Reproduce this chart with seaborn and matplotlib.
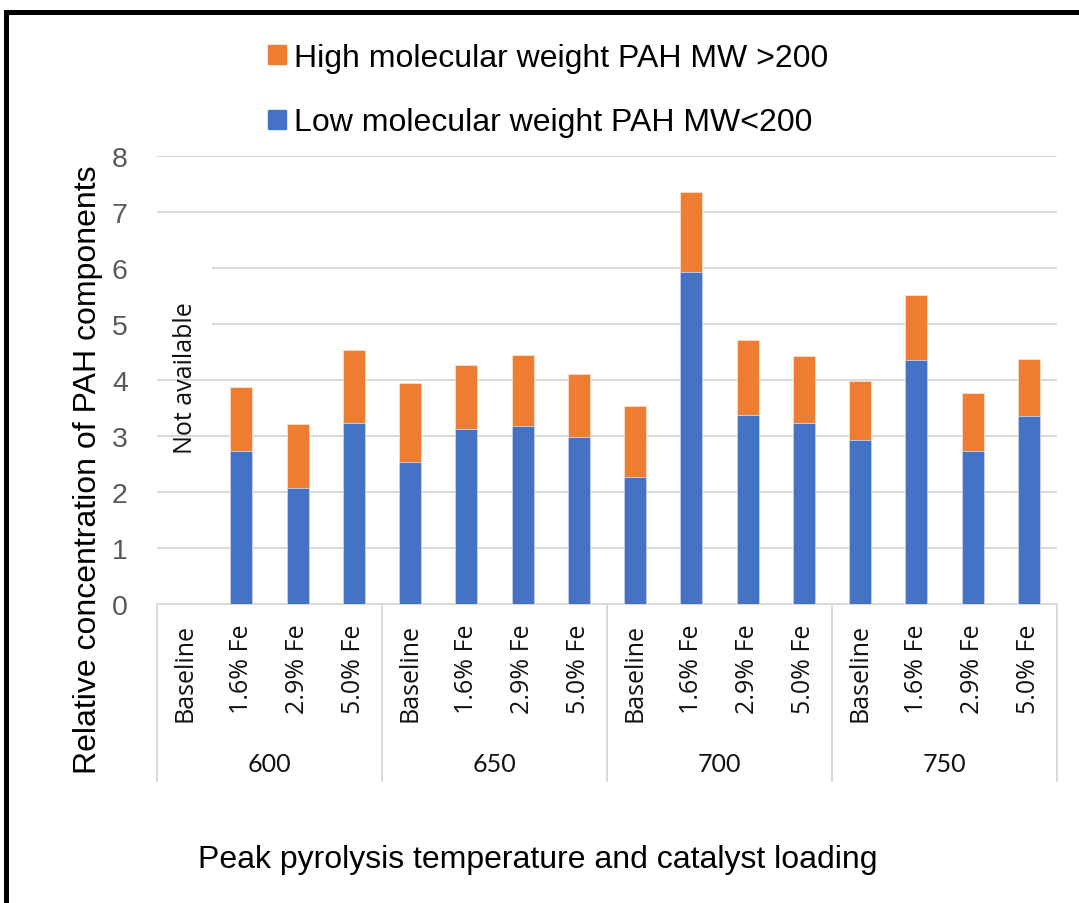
import numpy as np
import pandas as pd
import matplotlib
matplotlib.use("Agg")
import matplotlib.pyplot as plt
import matplotlib.patches as mpatches
import matplotlib.transforms as mtransforms
import seaborn as sns

# ---- data ----
temperatures = ["600", "650", "700", "750"]
loadings = ["Baseline", "1.6% Fe", "2.9% Fe", "5.0% Fe"]
low_mw = [np.nan, 2.73, 2.07, 3.24,
          2.54, 3.13, 3.18, 2.99,
          2.27, 5.92, 3.38, 3.24,
          2.92, 4.35, 2.74, 3.36]
high_mw = [np.nan, 1.15, 1.14, 1.30,
           1.40, 1.14, 1.27, 1.12,
           1.27, 1.44, 1.34, 1.18,
           1.07, 1.16, 1.02, 1.02]
yticks = [0, 1, 2, 3, 4, 5, 6, 7, 8]

BLUE = "#4472C4"
ORANGE = "#ED7D31"
GRID = "#D9D9D9"

keys = [f"{t}|{l}" for t in temperatures for l in loadings]
df = pd.DataFrame({
    "key": keys,
    "low": low_mw,
    "total": np.array(low_mw) + np.array(high_mw),
})

sns.set_theme(style="white")
plt.rcParams["font.family"] = ["Liberation Sans", "DejaVu Sans"]
plt.rcParams["text.color"] = "black"

fig = plt.figure(figsize=(10.79, 9.04), dpi=100)
ax = fig.add_axes([157 / 1079, 1 - 605 / 904, 900 / 1079, 448 / 904])

# stacked bars: total (orange) underneath, low-MW share (blue) on top of it
sns.barplot(data=df, x="key", y="total", order=keys, color=ORANGE,
            saturation=1, width=0.39, edgecolor="#FBE0CF", linewidth=0.6,
            ax=ax, zorder=2)
sns.barplot(data=df, x="key", y="low", order=keys, color=BLUE,
            saturation=1, width=0.39, edgecolor="#C9D6EF", linewidth=0.6,
            ax=ax, zorder=3)

ax.set_ylim(0, 8)
ax.set_xlim(-0.5, len(keys) - 0.5)
ax.set_yticks(yticks)
ax.set_yticklabels([str(v) for v in yticks], fontsize=20.5, color="#595959")
ax.tick_params(axis="y", length=0, pad=21)
ax.set_axisbelow(True)
ax.yaxis.grid(True, color=GRID, linewidth=1.4)
ax.xaxis.grid(False)
for s in ["top", "right", "left"]:
    ax.spines[s].set_visible(False)
ax.spines["bottom"].set_color(GRID)
ax.spines["bottom"].set_linewidth(1.4)

ax.set_xticks(range(len(keys)))
ax.set_xticklabels([k.split("|")[1] for k in keys], rotation=90,
                   fontsize=18, family=["Open Sans", "DejaVu Sans"],
                   color="#111111", va="top")
ax.tick_params(axis="x", length=0, pad=14)
ax.set_xlabel("")
ax.set_ylabel("")

# group separators and temperature labels below the axis
trans = mtransforms.blended_transform_factory(ax.transData, ax.transAxes)
for b in np.arange(-0.5, len(keys), len(loadings)):
    ax.plot([b, b], [0, -0.395], transform=trans, color=GRID,
            linewidth=1.4, clip_on=False)
for i, t in enumerate(temperatures):
    ax.text(i * len(loadings) + 1.5, -0.357, t, transform=trans,
            ha="center", va="center", fontsize=18,
            family=["Lato", "DejaVu Sans"], color="#111111")

# note for the missing 600 °C baseline
ax.add_patch(mpatches.Rectangle((-0.5, 4.5), 0.98, 2.0, facecolor="white",
                                edgecolor="none", zorder=1))
ax.text(0.0, 4.06, "Not available", rotation=90, ha="center", va="center",
        fontsize=18, family=["Open Sans", "DejaVu Sans"], color="#111111",
        zorder=4)

# legend
handles = [mpatches.Patch(color=ORANGE, label="High molecular weight PAH MW >200"),
           mpatches.Patch(color=BLUE, label="Low molecular weight PAH MW<200")]
fig.legend(handles=handles, loc="upper left",
           bbox_to_anchor=(268 / 1079, 1 - 44 / 904), frameon=False,
           fontsize=23, labelcolor="black", handlelength=0.55,
           handleheight=0.55, handletextpad=0.25, labelspacing=1.08,
           borderpad=0, borderaxespad=0)

# axis titles
fig.text(88 / 1079, 1 - 470 / 904, "Relative concentration of PAH components",
         rotation=90, ha="center", va="center", fontsize=23, color="black")
fig.text(538 / 1079, 1 - 860 / 904, "Peak pyrolysis temperature and catalyst loading",
         ha="center", va="center", fontsize=23, color="black")

# outer frame
fig.add_artist(mpatches.Rectangle((5.5 / 1079, -0.5), 2.0, 1.5 - 12.5 / 904,
                                  transform=fig.transFigure, fill=False,
                                  edgecolor="black", linewidth=3.6,
                                  clip_on=False))

fig.savefig("out.png", dpi=100)
